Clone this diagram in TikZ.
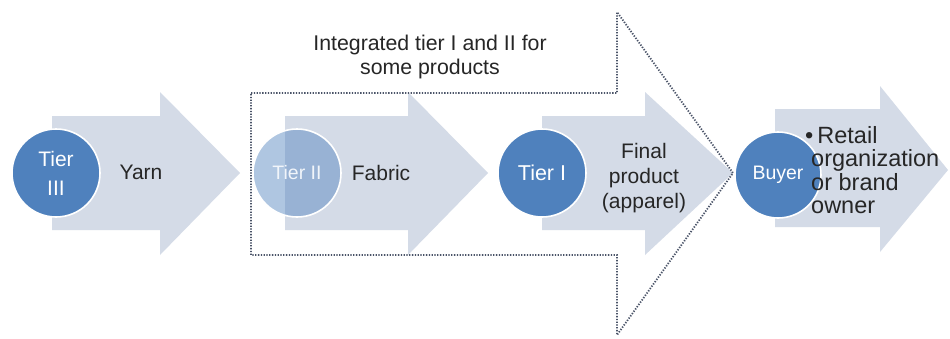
\documentclass[tikz,border=0pt]{standalone}
\usepackage{fontspec}
\setmainfont{Liberation Sans}
\begin{document}
\begin{tikzpicture}[x=1pt,y=-1pt,
  flowarrow/.style={fill=arrowfill,draw=none},
  tiercircle/.style={circle,fill=tierblue,draw=white,line width=1.6pt,
    minimum size=88pt,inner sep=0pt,text=white,align=center,
    font=\fontsize{21}{29}\selectfont},
  label/.style={align=center,text=black!85,font=\fontsize{21}{25}\selectfont},
  groupline/.style={draw=dotgray,line width=1.8pt,dash pattern=on 1.3pt off 1.5pt}]
\definecolor{arrowfill}{HTML}{D4DBE7}
\definecolor{tierblue}{HTML}{4F81BD}
\definecolor{dotgray}{HTML}{4A5468}
\useasboundingbox (0,0) rectangle (950,338);
\fill[white] (0,0) rectangle (950,338);

% block arrows of the supply chain
\fill[flowarrow] (52,116) -- (160,116) -- (160,92) -- (240,173) -- (160,255) -- (160,230) -- (52,230) -- cycle;
\fill[flowarrow] (285,116) -- (408,116) -- (408,92) -- (488,173) -- (408,255) -- (408,230) -- (285,230) -- cycle;
\fill[flowarrow] (542,116) -- (645,116) -- (645,92) -- (733,173) -- (645,255) -- (645,230) -- (542,230) -- cycle;
\fill[flowarrow] (775,109) -- (880,109) -- (880,86) -- (948,170) -- (880,252) -- (880,227) -- (775,227) -- cycle;

% dotted outline grouping tier I and tier II
\coordinate (g1) at (251,93);
\coordinate (g2) at (617,93);
\coordinate (g3) at (617,12);
\coordinate (g4) at (733,173);
\coordinate (g5) at (617,335);
\coordinate (g6) at (617,255);
\coordinate (g7) at (251,255);
\draw[groupline] (g1) -- (g2) -- (g3) -- (g4) -- (g5) -- (g6) -- (g7) -- cycle;

% tier circles
\node[tiercircle] (t3) at (56,173) {Tier\\III};
\node[tiercircle,fill opacity=0.45,text opacity=1,text=white!92!tierblue,
  font=\fontsize{19.5}{24}\selectfont] (t2) at (297,173) {Tier II};
\node[tiercircle,font=\fontsize{21.5}{24}\selectfont] (t1) at (542,173) {Tier I};
\node[tiercircle,minimum size=86pt,font=\fontsize{19.5}{24}\selectfont] (by) at (778,175) {Buyer};

% labels
\node[label] (yarn) at (141,172) {Yarn};
\node[label] (fabric) at (381,173) {Fabric};
\node[label] (final) at (644,178) {Final\\product\\(apparel)};
\node[label,align=left,anchor=west,inner sep=0pt,font=\fontsize{23.5}{23.5}\selectfont]
  (owner) at (805,170) {\textbullet\hspace{4pt}Retail\\\hspace{6pt}organization\\\hspace{6pt}or brand\\\hspace{6pt}owner};
\node[label,font=\fontsize{21.3}{24}\selectfont] (group) at (430,57) {Integrated tier I and II for\\some products};
\end{tikzpicture}
\end{document}
